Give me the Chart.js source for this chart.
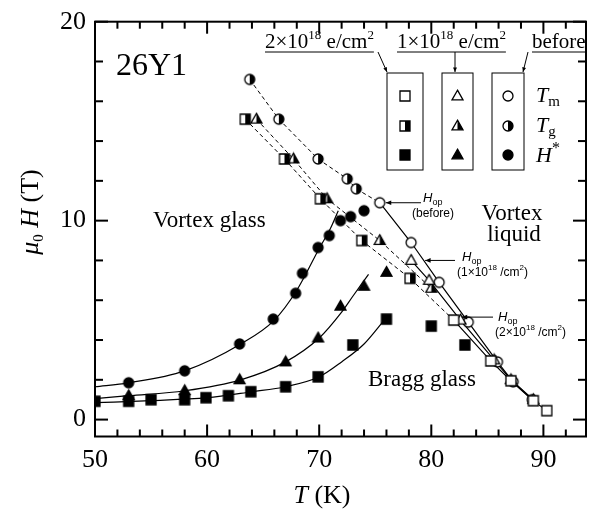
<!DOCTYPE html>
<html>
<head>
<meta charset="utf-8">
<script src="https://cdn.jsdelivr.net/npm/chart.js@4.4.1/dist/chart.umd.min.js"></script>
<style>
  html, body { margin: 0; padding: 0; background: #fff; }
</style>
</head>
<body>
<canvas id="phase" width="593" height="510"></canvas>
<script>
const SERIF = '"Liberation Serif", "Times New Roman", serif';
const SANS = '"Liberation Sans", Arial, sans-serif';

// --- values: T (K) and mu0H (T) ---
// T_m (open symbols, solid melting lines)
const tmBeforeT = [75.4, 78.2, 80.7, 83.3, 85.9, 87.3, 89.0];
const tmBeforeH = [10.9, 8.9, 6.9, 4.9, 2.9, 1.9, 1.0];
const tm1e18T = [78.2, 79.8, 82.6, 85.6, 87.1, 89.1];
const tm1e18H = [8.0, 7.0, 5.0, 3.0, 2.0, 1.0];
const tm2e18T = [82.0, 85.3, 87.1, 89.1, 90.3];
const tm2e18H = [5.0, 2.95, 1.95, 0.95, 0.45];

// T_g (half filled symbols, dashed lines)
const tgBeforeT = [63.8, 66.4, 69.9, 72.5, 73.3];
const tgBeforeH = [17.1, 15.1, 13.1, 12.1, 11.6];
const tg1e18T = [64.4, 67.7, 70.7, 75.4, 80.0];
const tg1e18H = [15.1, 13.1, 11.1, 9.0, 6.6];
const tg2e18T = [63.4, 66.9, 70.1, 73.8, 78.1];
const tg2e18H = [15.1, 13.1, 11.1, 9.0, 7.1];

// H* (filled symbols)
const hsBeforeT = [53.0, 58.0, 62.9, 65.9, 67.9, 68.5, 69.9, 70.9, 71.9, 72.8, 74.0];
const hsBeforeH = [1.85, 2.45, 3.8, 5.05, 6.35, 7.35, 8.65, 9.25, 10.0, 10.2, 10.5];
const hs1e18T = [53.0, 58.0, 62.9, 67.0, 69.9, 71.9, 74.0, 76.0];
const hs1e18H = [1.2, 1.45, 2.0, 2.9, 4.1, 5.7, 6.7, 7.4];
const hs2e18T = [50.0, 53.0, 55.0, 58.0, 59.9, 61.9, 63.9, 67.0, 69.9, 73.0, 76.0, 80.0, 83.0];
const hs2e18H = [0.92, 0.92, 1.0, 1.0, 1.1, 1.2, 1.4, 1.65, 2.15, 3.75, 5.05, 4.7, 3.75];

// solid guide curves through H*
const fitBeforeT = [50, 53, 58, 63, 66, 68, 70, 71, 71.7];
const fitBeforeH = [1.65, 1.85, 2.45, 3.8, 5.0, 6.5, 8.6, 9.6, 10.5];
const fit1e18T = [50, 53, 58, 63, 67, 70, 72, 73, 74.4];
const fit1e18H = [1.05, 1.2, 1.45, 2.0, 2.9, 4.1, 5.4, 6.2, 7.3];
const fit2e18T = [50, 55, 60, 64, 67, 70, 72, 74, 75.8];
const fit2e18H = [0.85, 0.95, 1.1, 1.4, 1.65, 2.15, 2.9, 3.8, 5.0];

// axes
const xMin = 50, xMax = 93.8, yMin = -0.85, yMax = 20;
const xLabels = [50, 60, 70, 80, 90];
const yLabels = [0, 10, 20];
const xMinor = [52, 54, 56, 58, 62, 64, 66, 68, 72, 74, 76, 78, 82, 84, 86, 88, 92];
const yMinor = [2, 4, 6, 8, 12, 14, 16, 18];

// --- marker images ---
const SIZE = { circle: 10, square: 10, triangle: 11 };

function shapePath(ctx, shape, x, y, s) {
  ctx.beginPath();
  if (shape === 'circle') {
    ctx.arc(x, y, s / 2, 0, Math.PI * 2);
  } else if (shape === 'square') {
    ctx.rect(x - s / 2, y - s / 2, s, s);
  } else {
    const h = s * 0.88;
    ctx.moveTo(x, y - h * 0.6);
    ctx.lineTo(x + s / 2, y + h * 0.4);
    ctx.lineTo(x - s / 2, y + h * 0.4);
    ctx.closePath();
  }
}

function drawMarker(ctx, shape, fill, x, y, s) {
  ctx.save();
  ctx.lineWidth = 1.3;
  ctx.strokeStyle = '#000';
  shapePath(ctx, shape, x, y, s);
  ctx.fillStyle = fill === 'full' ? '#000' : '#fff';
  ctx.fill();
  if (fill === 'half') {
    ctx.save();
    ctx.clip();
    ctx.fillStyle = '#000';
    ctx.fillRect(x, y - s, s, 2 * s);
    ctx.restore();
  }
  shapePath(ctx, shape, x, y, s);
  ctx.stroke();
  ctx.restore();
}

function markerImage(shape, fill) {
  const c = document.createElement('canvas');
  c.width = c.height = SIZE[shape] + 4;
  drawMarker(c.getContext('2d'), shape, fill, c.width / 2, c.height / 2, SIZE[shape]);
  return c;
}

const xy = (ts, hs) => ts.map((t, i) => ({ x: t, y: hs[i] }));

function marks(ts, hs, shape, fill) {
  return {
    data: xy(ts, hs), showLine: false, order: 1,
    pointStyle: markerImage(shape, fill), pointRadius: 6, pointHoverRadius: 6
  };
}

function curve(ts, hs, dashed, smooth) {
  return {
    data: xy(ts, hs), showLine: true, order: 2, pointRadius: 0,
    borderColor: '#000', borderWidth: dashed ? 1 : 1.2,
    borderDash: dashed ? [4, 3] : [],
    cubicInterpolationMode: smooth ? 'monotone' : 'default', tension: 0
  };
}

const datasets = [
  // markers on top
  marks(tm2e18T, tm2e18H, 'square', 'open'),
  marks(tm1e18T, tm1e18H, 'triangle', 'open'),
  marks(tmBeforeT, tmBeforeH, 'circle', 'open'),
  marks(tg2e18T, tg2e18H, 'square', 'half'),
  marks(tg1e18T, tg1e18H, 'triangle', 'half'),
  marks(tgBeforeT, tgBeforeH, 'circle', 'half'),
  marks(hs2e18T, hs2e18H, 'square', 'full'),
  marks(hs1e18T, hs1e18H, 'triangle', 'full'),
  marks(hsBeforeT, hsBeforeH, 'circle', 'full'),
  // lines behind
  curve(tmBeforeT, tmBeforeH, false, false),
  curve(tm1e18T, tm1e18H, false, false),
  curve(tm2e18T, tm2e18H, false, false),
  curve(tgBeforeT.concat(tmBeforeT[0]), tgBeforeH.concat(tmBeforeH[0]), true, false),
  curve(tg1e18T, tg1e18H, true, false),
  curve(tg2e18T.concat(tm2e18T[0]), tg2e18H.concat(tm2e18H[0]), true, false),
  curve(fitBeforeT, fitBeforeH, false, true),
  curve(fit1e18T, fit1e18H, false, true),
  curve(fit2e18T, fit2e18H, false, true)
];

// draw runs of differently styled text; returns width
function rich(ctx, x, y, runs, measureOnly) {
  let cx = x;
  runs.forEach(([txt, font, dy]) => {
    ctx.font = font;
    if (!measureOnly) ctx.fillText(txt, cx, y + (dy || 0));
    cx += ctx.measureText(txt).width;
  });
  return cx - x;
}

function arrow(ctx, x1, y1, x2, y2, head) {
  ctx.beginPath();
  ctx.moveTo(x1, y1);
  ctx.lineTo(x2, y2);
  ctx.stroke();
  const ang = Math.atan2(y2 - y1, x2 - x1);
  ctx.beginPath();
  ctx.moveTo(x2, y2);
  ctx.lineTo(x2 - head * Math.cos(ang - 0.4), y2 - head * Math.sin(ang - 0.4));
  ctx.lineTo(x2 - head * Math.cos(ang + 0.4), y2 - head * Math.sin(ang + 0.4));
  ctx.closePath();
  ctx.fill();
}

const decor = {
  id: 'decor',
  afterDraw(chart) {
    const ctx = chart.ctx;
    const area = chart.chartArea;
    const sx = chart.scales.x, sy = chart.scales.y;
    const L = area.left, R = area.right, T = area.top, B = area.bottom;
    ctx.save();
    ctx.strokeStyle = '#000';
    ctx.fillStyle = '#000';

    // frame
    ctx.lineWidth = 2;
    ctx.strokeRect(L, T, R - L, B - T);

    // inward ticks on all four sides
    const w = 2;
    xLabels.concat(xMinor).forEach(v => {
      const len = xLabels.includes(v) ? 12 : 7;
      const px = sx.getPixelForValue(v);
      ctx.fillRect(px - w / 2, B - len, w, len);
      ctx.fillRect(px - w / 2, T, w, len);
    });
    yLabels.concat(yMinor).forEach(v => {
      const len = yLabels.includes(v) ? 13 : 8;
      const py = sy.getPixelForValue(v);
      ctx.fillRect(L, py - w / 2, len, w);
      ctx.fillRect(R - len, py - w / 2, len, w);
    });

    // axis titles
    ctx.textBaseline = 'alphabetic';
    const yTitle = [
      ['\u03bc', 'italic 26px ' + SERIF, 0],
      ['0', '15px ' + SERIF, 5],
      [' H', 'italic 26px ' + SERIF, 0],
      [' (T)', '26px ' + SERIF, 0]
    ];
    ctx.save();
    ctx.translate(38, 212);
    ctx.rotate(-Math.PI / 2);
    const yw = rich(ctx, 0, 0, yTitle, true);
    rich(ctx, -yw / 2, 0, yTitle);
    ctx.restore();

    const xTitle = [['T', 'italic 26px ' + SERIF, 0], [' (K)', '26px ' + SERIF, 0]];
    const xw = rich(ctx, 0, 0, xTitle, true);
    rich(ctx, 322 - xw / 2, 503, xTitle);

    // region labels
    ctx.font = '32px ' + SERIF;
    ctx.fillText('26Y1', 116, 75);
    ctx.font = '23px ' + SERIF;
    ctx.fillText('Vortex glass', 153, 227);
    ctx.textAlign = 'center';
    ctx.fillText('Vortex', 512, 220);
    ctx.fillText('liquid', 514, 241);
    ctx.textAlign = 'left';
    ctx.fillText('Bragg glass', 368, 386);

    // H_op pointers
    const hop = (lx, ly) => rich(ctx, lx, ly, [['H', 'italic 13px ' + SANS, 0], ['op', '9px ' + SANS, 3]]);
    const dose = (lx, ly, n) => rich(ctx, lx, ly, [
      ['(' + n + '\u00d710', '12px ' + SANS, 0], ['18', '8px ' + SANS, -6],
      [' /cm', '12px ' + SANS, 0], ['2', '8px ' + SANS, -6], [')', '12px ' + SANS, 0]
    ]);
    ctx.lineWidth = 1;
    const p0 = [sx.getPixelForValue(tmBeforeT[0]), sy.getPixelForValue(tmBeforeH[0])];
    arrow(ctx, 421, p0[1], p0[0] + 6, p0[1], 6);
    hop(423, 202);
    ctx.font = '12px ' + SANS;
    ctx.fillText('(before)', 412, 217);

    const p1 = [sx.getPixelForValue(tm1e18T[0]), sy.getPixelForValue(tm1e18H[0])];
    arrow(ctx, 455, p1[1], p1[0] + 14, p1[1], 6);
    hop(462, 261);
    dose(457, 276, 1);

    const p2 = [sx.getPixelForValue(tm2e18T[0]), sy.getPixelForValue(tm2e18H[0])];
    arrow(ctx, 493, p2[1] - 3, p2[0] + 8, p2[1] - 3, 6);
    hop(498, 321);
    dose(495, 336, 2);

    // legend
    const supF = '13px ' + SERIF, mainF = '21px ' + SERIF;
    const heads = [
      { x: 265, runs: [['2\u00d710', mainF, 0], ['18', supF, -9], [' e/cm', mainF, 0], ['2', supF, -9]], from: 378, to: [387, 72] },
      { x: 397, runs: [['1\u00d710', mainF, 0], ['18', supF, -9], [' e/cm', mainF, 0], ['2', supF, -9]], from: 455, to: [455, 72] },
      { x: 532, runs: [['before', mainF, 0]], from: 528, to: [523, 72] }
    ];
    heads.forEach(h => {
      const tw = rich(ctx, h.x, 48, h.runs);
      ctx.beginPath();
      ctx.moveTo(h.x, 52); ctx.lineTo(h.x + tw, 52);
      ctx.stroke();
      arrow(ctx, h.from, 52, h.to[0], h.to[1], 5);
    });
    const boxes = [
      { l: 387, w: 36, shape: 'square' },
      { l: 442, w: 31, shape: 'triangle' },
      { l: 492, w: 32, shape: 'circle' }
    ];
    const rows = [['open', 96], ['half', 126], ['full', 155]];
    boxes.forEach(b => {
      ctx.lineWidth = 1;
      ctx.strokeRect(b.l, 73, b.w, 97);
      rows.forEach(([fill, ry]) => drawMarker(ctx, b.shape, fill, b.l + b.w / 2, ry, SIZE[b.shape]));
    });
    ctx.fillStyle = '#000';
    rich(ctx, 536, 102, [['T', 'italic 22px ' + SERIF, 0], ['m', '15px ' + SERIF, 4]]);
    rich(ctx, 536, 132, [['T', 'italic 22px ' + SERIF, 0], ['g', '15px ' + SERIF, 4]]);
    rich(ctx, 536, 162, [['H', 'italic 22px ' + SERIF, 0], ['*', '16px ' + SERIF, -9]]);

    ctx.restore();
  }
};

const fixTicks = vals => s => { s.ticks = vals.map(v => ({ value: v })); };

new Chart(document.getElementById('phase'), {
  type: 'scatter',
  data: { datasets },
  options: {
    responsive: false,
    animation: false,
    layout: { padding: { top: 21.7, right: 2, bottom: 0, left: 0 } },
    plugins: { legend: { display: false }, tooltip: { enabled: false } },
    scales: {
      x: {
        type: 'linear', min: xMin, max: xMax,
        border: { display: false },
        grid: { display: false, drawTicks: false },
        ticks: { autoSkip: false, maxRotation: 0, padding: 8, color: '#000', font: { family: SERIF, size: 26 } },
        afterBuildTicks: fixTicks(xLabels),
        afterFit: s => { s.height = 73.5; s.paddingLeft = 0; s.paddingRight = 0; }
      },
      y: {
        type: 'linear', min: yMin, max: yMax,
        border: { display: false },
        grid: { display: false, drawTicks: false },
        ticks: { autoSkip: false, padding: 9, color: '#000', font: { family: SERIF, size: 26 } },
        afterBuildTicks: fixTicks(yLabels),
        afterFit: s => { s.width = 95; s.paddingTop = 0; s.paddingBottom = 0; }
      }
    }
  },
  plugins: [decor]
});
</script>
</body>
</html>
